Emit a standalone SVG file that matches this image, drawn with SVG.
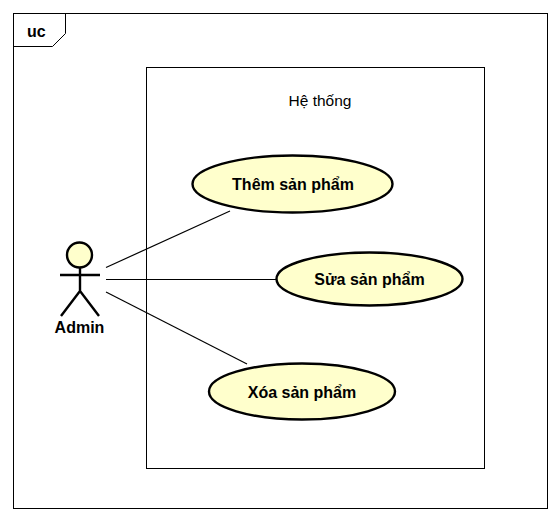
<svg xmlns="http://www.w3.org/2000/svg" width="560" height="521" viewBox="0 0 560 521">
<style>
.frame{fill:none;stroke:#000;stroke-width:1}
.uc{fill:#ffffcc;stroke:#000;stroke-width:2.4}
.conn{fill:none;stroke:#000;stroke-width:1.2}
.fig{fill:none;stroke:#000;stroke-width:2.4}
text{font-family:"Liberation Sans",Arial,sans-serif;fill:#000}
.b{font-size:16px;font-weight:bold;text-anchor:middle}
</style>
<rect width="560" height="521" fill="#fff"/>
<g id="frame">
<rect class="frame" x="13.500" y="13.500" width="534" height="495"/>
<path class="frame" d="M13.500 46.500H52.500L65.500 33.500V13.500"/>
<text x="27" y="37" font-size="16" font-weight="bold">uc</text>
</g>
<g id="system">
<rect class="frame" x="146.500" y="67.500" width="338" height="401"/>
<text x="320" y="106" font-size="15.500" text-anchor="middle">Hệ thống</text>
</g>
<g id="connectors">
<path class="conn" d="M106 267.500L230 211"/>
<path class="conn" d="M106 279.500H276"/>
<path class="conn" d="M106 292L247 364"/>
</g>
<g id="admin">
<circle cx="79.500" cy="255" r="12.500" fill="#ffffcc" stroke="#000" stroke-width="2.400"/>
<path class="fig" d="M80 268V291M60 275H100M61 316L80 291L99 316"/>
<text class="b" x="79.500" y="333">Admin</text>
</g>
<g id="uc-them">
<ellipse class="uc" cx="292.500" cy="184" rx="100" ry="28.500"/>
<text class="b" x="293" y="190">Thêm sản phẩm</text>
</g>
<g id="uc-sua">
<ellipse class="uc" cx="369.500" cy="279" rx="93" ry="26.500"/>
<text class="b" x="369.500" y="285">Sửa sản phẩm</text>
</g>
<g id="uc-xoa">
<ellipse class="uc" cx="302" cy="391.500" rx="93" ry="28"/>
<text class="b" x="302" y="398">Xóa sản phẩm</text>
</g>
</svg>
